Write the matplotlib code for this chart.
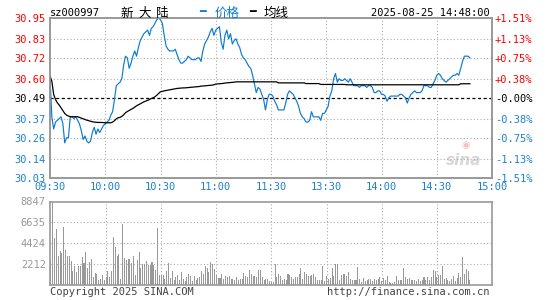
import numpy as np
import matplotlib
matplotlib.use("Agg")
import matplotlib.pyplot as plt

# -------------------------------------------------------
# Data (sz000997, 2025-08-25)
# -------------------------------------------------------
PREV_CLOSE = 30.49

price_am = [
    30.61, 30.38, 30.31, 30.35, 30.36, 30.37, 30.38, 30.34, 30.23, 30.26,
    30.26, 30.38, 30.38, 30.37, 30.38, 30.36, 30.34, 30.30, 30.25, 30.27,
    30.24, 30.23, 30.24, 30.29, 30.32, 30.28, 30.31, 30.29, 30.31, 30.33,
    30.34, 30.35, 30.36, 30.39, 30.41, 30.48, 30.56, 30.57, 30.58, 30.60,
    30.68, 30.73, 30.72, 30.66, 30.69, 30.73, 30.76, 30.73, 30.78, 30.82,
    30.84, 30.86, 30.87, 30.88, 30.85, 30.89, 30.90, 30.92, 30.94, 30.95,
    30.94, 30.92, 30.85, 30.79, 30.77, 30.76, 30.76, 30.76, 30.77, 30.74,
    30.71, 30.69, 30.69, 30.70, 30.71, 30.73, 30.72, 30.71, 30.71, 30.71,
    30.72, 30.72, 30.70, 30.76, 30.80, 30.82, 30.84, 30.87, 30.89, 30.85,
    30.88, 30.89, 30.90, 30.81, 30.77, 30.85, 30.88, 30.83, 30.86, 30.80,
    30.82, 30.83, 30.80, 30.78, 30.74, 30.72, 30.71, 30.69, 30.67, 30.66,
    30.62, 30.57, 30.52, 30.55, 30.54, 30.51, 30.48, 30.42, 30.48, 30.51,
    30.51,
]
price_pm = [
    30.50, 30.47, 30.45, 30.42, 30.42, 30.42, 30.42, 30.46, 30.51, 30.53,
    30.52, 30.51, 30.49, 30.47, 30.44, 30.40, 30.38, 30.37, 30.35, 30.35,
    30.36, 30.41, 30.38, 30.38, 30.38, 30.38, 30.36, 30.40, 30.40, 30.42,
    30.44, 30.50, 30.53, 30.60, 30.63, 30.58, 30.60, 30.59, 30.59, 30.60,
    30.59, 30.58, 30.60, 30.58, 30.56, 30.56, 30.56, 30.55, 30.56, 30.56,
    30.56, 30.55, 30.56, 30.56, 30.55, 30.52, 30.52, 30.53, 30.53, 30.51,
    30.51, 30.50, 30.47, 30.49, 30.50, 30.50, 30.50, 30.50, 30.50, 30.51,
    30.51, 30.50, 30.49, 30.46, 30.49, 30.51, 30.52, 30.53, 30.52, 30.52,
    30.52, 30.53, 30.56, 30.56, 30.56, 30.55, 30.55, 30.57, 30.59, 30.62,
    30.63, 30.62, 30.60, 30.59, 30.58, 30.59, 30.60, 30.61, 30.62, 30.62,
    30.63, 30.62, 30.66, 30.70, 30.73, 30.73, 30.73, 30.72,
]

avg_am = [
    30.615, 30.586, 30.509, 30.480, 30.461, 30.448, 30.432, 30.417, 30.400, 30.390,
    30.385, 30.381, 30.381, 30.381, 30.381, 30.381, 30.377, 30.373, 30.369, 30.365,
    30.361, 30.358, 30.355, 30.352, 30.350, 30.349, 30.348, 30.348, 30.348, 30.347,
    30.346, 30.346, 30.346, 30.346, 30.350, 30.358, 30.369, 30.375, 30.377, 30.383,
    30.392, 30.404, 30.411, 30.417, 30.423, 30.429, 30.436, 30.444, 30.450, 30.455,
    30.461, 30.467, 30.471, 30.475, 30.480, 30.486, 30.490, 30.496, 30.505, 30.515,
    30.525, 30.527, 30.530, 30.532, 30.534, 30.536, 30.538, 30.540, 30.542, 30.544,
    30.545, 30.546, 30.547, 30.547, 30.548, 30.549, 30.550, 30.551, 30.552, 30.553,
    30.554, 30.555, 30.557, 30.558, 30.559, 30.560, 30.561, 30.562, 30.563, 30.565,
    30.569, 30.570, 30.571, 30.572, 30.573, 30.575, 30.576, 30.577, 30.578, 30.579,
    30.580, 30.582, 30.582, 30.582, 30.582, 30.582, 30.582, 30.582, 30.582, 30.582,
    30.582, 30.582, 30.582, 30.582, 30.582, 30.582, 30.582, 30.582, 30.582, 30.582,
    30.582,
]
avg_pm = [
    30.582, 30.582, 30.582, 30.576, 30.576, 30.576, 30.576, 30.576, 30.576, 30.576,
    30.576, 30.576, 30.576, 30.576, 30.576, 30.576, 30.576, 30.576, 30.572, 30.572,
    30.572, 30.572, 30.572, 30.572, 30.572, 30.572, 30.567, 30.567, 30.567, 30.567,
    30.567, 30.567, 30.567, 30.567, 30.567, 30.567, 30.567, 30.567, 30.567, 30.567,
    30.565, 30.565, 30.565, 30.565, 30.565, 30.565, 30.565, 30.565, 30.565, 30.565,
    30.565, 30.565, 30.565, 30.565, 30.565, 30.565, 30.565, 30.565, 30.565, 30.565,
    30.565, 30.565, 30.565, 30.565, 30.565, 30.565, 30.565, 30.565, 30.565, 30.565,
    30.565, 30.565, 30.565, 30.565, 30.565, 30.565, 30.565, 30.565, 30.565, 30.565,
    30.565, 30.565, 30.565, 30.565, 30.565, 30.565, 30.565, 30.565, 30.565, 30.565,
    30.565, 30.565, 30.565, 30.565, 30.565, 30.565, 30.565, 30.565, 30.565, 30.565,
    30.565, 30.565, 30.571, 30.571, 30.571, 30.571, 30.571, 30.571,
]

vol_am = [
    2668, 8847, 4950, 5897, 3089, 3615, 3440, 6107, 3720, 3089,
    3089, 2562, 1439, 1966, 1334, 1966, 1966, 3019, 2317, 3545,
    1790, 2387, 2738, 842, 1264, 1193, 491, 667, 1088, 491,
    842, 1439, 842, 1439, 5125, 4072, 3089, 3300, 667, 6458,
    2913, 2597, 2738, 2738, 2317, 3089, 1088, 2597, 3475, 1790,
    2211, 2211, 2562, 2071, 2141, 2422, 2141, 1544, 6037, 1088,
    1088, 1088, 667, 1509, 2317, 737, 1439, 562, 842, 1088,
    491, 1334, 667, 456, 842, 1193, 983, 456, 983, 491,
    737, 842, 1439, 1193, 1966, 1790, 1334, 2387, 2211, 1685,
    1088, 772, 702, 1193, 667, 913, 842, 913, 667, 667,
    562, 842, 562, 667, 667, 1264, 983, 842, 1615, 1193,
    983, 913, 842, 1615, 1615, 842, 562, 632, 667, 420,
    350,
]
vol_pm = [
    300, 2211, 807, 1193, 913, 562, 667, 562, 1193, 1088,
    842, 667, 807, 807, 1193, 1825, 667, 1334, 1193, 983,
    913, 1018, 1193, 807, 491, 491, 491, 2036, 456, 983,
    667, 737, 1825, 913, 2211, 2211, 562, 1088, 1193, 1193,
    983, 1334, 667, 491, 562, 562, 1931, 667, 281, 772,
    456, 562, 632, 667, 456, 667, 562, 667, 807, 456,
    737, 491, 913, 316, 211, 211, 281, 983, 491, 491,
    491, 1825, 807, 667, 737, 562, 562, 491, 386, 667,
    456, 562, 842, 562, 842, 562, 842, 1615, 1439, 842,
    1053, 1088, 1966, 667, 737, 562, 456, 667, 983, 456,
    737, 1264, 807, 3019, 1193, 1720, 1439, 562,
]

time_labels = ["09:30", "10:00", "10:30", "11:00", "11:30",
               "13:30", "14:00", "14:30", "15:00"]
price_ticks = [30.03, 30.14, 30.26, 30.37, 30.49, 30.60, 30.72, 30.83, 30.95]
pct_labels = ["-1.51%", "-1.13%", "-0.75%", "-0.38%", "-0.00%",
              "+0.38%", "+0.75%", "+1.13%", "+1.51%"]
vol_ticks = [2212, 4424, 6635, 8847]
name_chars = ["新", "大", "陆"]

BLUE = "#0a7bd2"
LBLUE = "#1d80d0"
RED = "#ff0000"
GRAY = "#999999"
GRID = "#aaaaaa"

plt.rcParams["font.family"] = ["DejaVu Sans Mono", "Noto Sans CJK SC"]

price = np.array(price_am + price_pm)
avg = np.array(avg_am + avg_pm)
vol = np.array(vol_am + vol_pm)
x = np.arange(len(price))
tick_pos = np.arange(0, 241, 30)

fig = plt.figure(figsize=(5.45, 3.0), dpi=100)
fig.patch.set_facecolor("white")

# -----------------
# Price panel
# -----------------
ax = fig.add_axes([50 / 545, 1 - 177.6 / 300, 442 / 545, 159.6 / 300])
ax.set_xlim(0, 240)
ax.set_ylim(price_ticks[0], price_ticks[-1])

for t in tick_pos[1:-1]:
    ax.axvline(t, color=GRID, lw=0.8, ls=(0, (1, 2)), zorder=1)
for p in price_ticks[1:-1]:
    if p == PREV_CLOSE:
        ax.axhline(p, color="black", lw=0.9, ls=(0, (2.5, 2)), zorder=2)
    else:
        ax.axhline(p, color=GRID, lw=0.8, ls=(0, (1, 2)), zorder=1)

ax.plot(x, price, color=BLUE, lw=0.85, zorder=3)
ax.plot(x, avg, color="black", lw=0.9, zorder=4)

ax.set_yticks(price_ticks)
ax.set_yticklabels([f"{p:.2f}" for p in price_ticks])
for lab, p in zip(ax.get_yticklabels(), price_ticks):
    lab.set_color(RED if p > PREV_CLOSE else ("black" if p == PREV_CLOSE else LBLUE))
ax.set_xticks(tick_pos)
ax.set_xticklabels(time_labels)
for lab in ax.get_xticklabels():
    lab.set_color(LBLUE)
ax.tick_params(length=0, labelsize=7.5, pad=3)

ax2 = ax.twinx()
ax2.set_ylim(ax.get_ylim())
ax2.set_yticks(price_ticks)
ax2.set_yticklabels(pct_labels)
for lab, p in zip(ax2.get_yticklabels(), price_ticks):
    lab.set_color(RED if p > PREV_CLOSE else ("black" if p == PREV_CLOSE else LBLUE))
ax2.tick_params(length=0, labelsize=7.5, pad=2)

for a in (ax, ax2):
    for s in a.spines.values():
        s.set_color(GRAY)
        s.set_linewidth(1.2)

# watermark
ax.text(0.975, 0.06, "sina", transform=ax.transAxes, ha="right", va="bottom",
        fontsize=11, fontstyle="italic", fontweight="bold", color="#d8d8d8",
        family="DejaVu Sans", zorder=0)
ax.text(0.94, 0.17, "◉", transform=ax.transAxes, ha="center", va="bottom",
        fontsize=7, color="#f4c0c0", family="DejaVu Sans", zorder=0)

# -----------------
# Volume panel
# -----------------
axv = fig.add_axes([50 / 545, 1 - 285 / 300, 442 / 545, 83.5 / 300])
axv.set_xlim(-0.5, 240)
axv.set_ylim(0, vol_ticks[-1])
for t in tick_pos[1:-1]:
    axv.axvline(t, color=GRID, lw=0.8, ls=(0, (1, 2)), zorder=1)
for v in vol_ticks[:-1]:
    axv.axhline(v, color=GRID, lw=0.8, ls=(0, (1, 2)), zorder=1)
axv.bar(np.arange(len(vol)), vol, width=0.55, color=GRAY, zorder=2)
axv.set_xticks([])
axv.set_yticks(vol_ticks)
axv.set_yticklabels([str(v) for v in vol_ticks], color=GRAY)
axv.tick_params(length=0, labelsize=7.5, pad=3)
for s in axv.spines.values():
    s.set_color(GRAY)
    s.set_linewidth(1.2)

# -----------------
# Header / footer text
# -----------------
fs = 7.5
fig.text(50 / 545, 1 - 13 / 300, "sz000997", fontsize=fs, va="center", ha="left")
for k, ch in enumerate(name_chars):
    fig.text((120 + 18 * k) / 545, 1 - 13 / 300, ch, fontsize=9, va="center",
             ha="left", family=["Noto Sans CJK SC"])
fig.text(199 / 545, 1 - 12 / 300, "━", fontsize=8, va="center", ha="left",
         color=BLUE, family=["DejaVu Sans"])
fig.text(215 / 545, 1 - 13 / 300, "价格", fontsize=9, va="center", ha="left",
         color=BLUE, family=["Noto Sans CJK SC"])
fig.text(249 / 545, 1 - 12 / 300, "━", fontsize=8, va="center", ha="left",
         color="black", family=["DejaVu Sans"])
fig.text(264 / 545, 1 - 13 / 300, "均线", fontsize=9, va="center", ha="left",
         family=["Noto Sans CJK SC"])
fig.text(490 / 545, 1 - 13 / 300, "2025-08-25 14:48:00", fontsize=fs,
         va="center", ha="right")
fig.text(50 / 545, 1 - 292 / 300, "Copyright 2025 SINA.COM", fontsize=fs,
         va="center", ha="left", color="#444444")
fig.text(490 / 545, 1 - 292 / 300, "http://finance.sina.com.cn", fontsize=fs,
         va="center", ha="right", color="#444444")

fig.savefig("out.png", dpi=100)
